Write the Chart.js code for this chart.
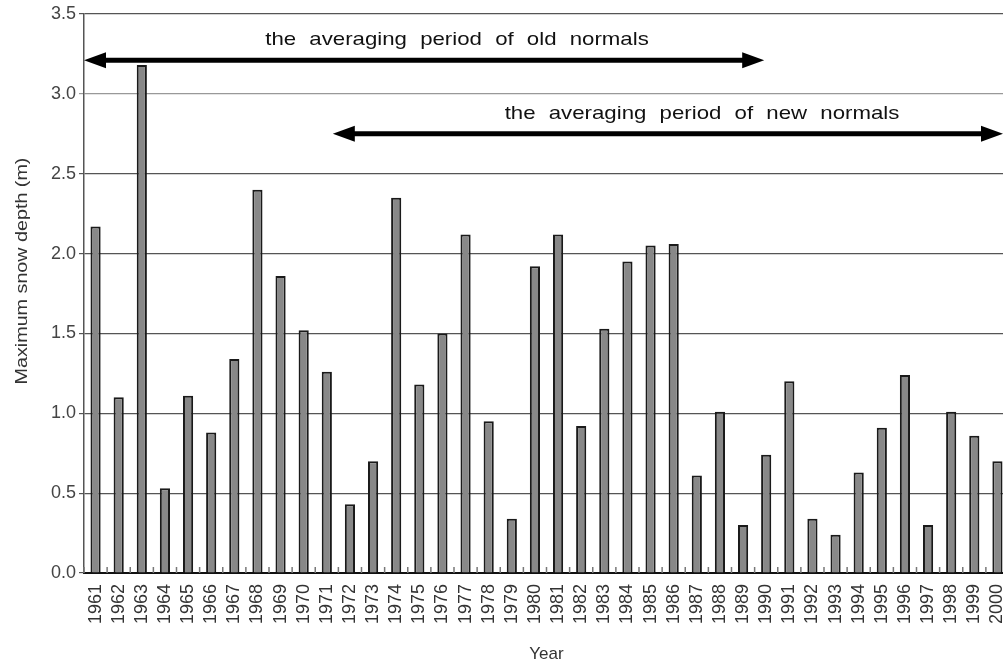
<!DOCTYPE html>
<html>
<head>
<meta charset="utf-8">
<script src="https://cdn.jsdelivr.net/npm/chart.js@4"></script>
<style>
  html, body { margin: 0; padding: 0; background: #fff; overflow: hidden; }
  #wrap { width: 1010px; height: 669px; }
</style>
</head>
<body>
<div id="wrap"><canvas id="snowChart"></canvas></div>
<script>
const years = ['1961','1962','1963','1964','1965','1966','1967','1968','1969','1970',
  '1971','1972','1973','1974','1975','1976','1977','1978','1979','1980',
  '1981','1982','1983','1984','1985','1986','1987','1988','1989','1990',
  '1991','1992','1993','1994','1995','1996','1997','1998','1999','2000'];
const snowDepth = [2.17, 1.10, 3.18, 0.53, 1.11, 0.88, 1.34, 2.40, 1.86, 1.52,
  1.26, 0.43, 0.70, 2.35, 1.18, 1.50, 2.12, 0.95, 0.34, 1.92,
  2.12, 0.92, 1.53, 1.95, 2.05, 2.06, 0.61, 1.01, 0.30, 0.74,
  1.20, 0.34, 0.24, 0.63, 0.91, 1.24, 0.30, 1.01, 0.86, 0.70];
const yTicks = [0, 0.5, 1.0, 1.5, 2.0, 2.5, 3.0, 3.5];
const yTitle = 'Maximum snow depth (m)';
const oldPeriod = { from: '1961', to: '1990', level: 3.21, label: 'the averaging period of old normals' };
const newPeriod = { from: '1971', to: '2000', level: 2.75, label: 'the averaging period of new normals' };

const FONT = '"Liberation Sans", Arial, sans-serif';

// Draw a double-headed arrow between two x pixels
function drawArrow(ctx, x1, x2, y) {
  const head = 22, half = 8;
  ctx.save();
  ctx.fillStyle = '#000';
  ctx.strokeStyle = '#000';
  ctx.lineWidth = 5;
  ctx.beginPath();
  ctx.moveTo(x1 + head - 2, y);
  ctx.lineTo(x2 - head + 2, y);
  ctx.stroke();
  ctx.beginPath();
  ctx.moveTo(x1, y); ctx.lineTo(x1 + head, y - half); ctx.lineTo(x1 + head, y + half); ctx.closePath();
  ctx.fill();
  ctx.beginPath();
  ctx.moveTo(x2, y); ctx.lineTo(x2 - head, y - half); ctx.lineTo(x2 - head, y + half); ctx.closePath();
  ctx.fill();
  ctx.restore();
}

// text is a bit wide in the original, so stretch it horizontally
function stretchedText(ctx, text, cx, cy, stretch) {
  ctx.save();
  ctx.translate(cx, cy);
  ctx.scale(stretch, 1);
  ctx.fillText(text, 0, 0);
  ctx.restore();
}

const periodArrows = {
  id: 'periodArrows',
  afterDatasetsDraw(chart) {
    const { ctx, scales: { x, y }, chartArea } = chart;
    const half = (x.getPixelForValue(1) - x.getPixelForValue(0)) / 2;

    // old normals: from plot edge to centre of 1990
    const oy = y.getPixelForValue(oldPeriod.level);
    drawArrow(ctx, chartArea.left, x.getPixelForValue(years.indexOf(oldPeriod.to)) - 2, oy);

    // new normals: from 1971 to end of 2000
    const ny = y.getPixelForValue(newPeriod.level);
    const nx1 = x.getPixelForValue(years.indexOf(newPeriod.from)) + 6;
    const nx2 = x.getPixelForValue(years.indexOf(newPeriod.to)) + half - 6;
    drawArrow(ctx, nx1, nx2, ny);

    ctx.save();
    ctx.fillStyle = '#111';
    ctx.font = '19px ' + FONT;
    ctx.textAlign = 'center';
    ctx.textBaseline = 'middle';
    if ('wordSpacing' in ctx) ctx.wordSpacing = '6px';
    stretchedText(ctx, oldPeriod.label, 457, oy - 21, 1.17);
    stretchedText(ctx, newPeriod.label, 702, ny - 20, 1.17);
    ctx.restore();

    // y axis title
    ctx.save();
    ctx.fillStyle = '#333';
    ctx.font = '17px ' + FONT;
    ctx.textAlign = 'center';
    ctx.textBaseline = 'middle';
    ctx.translate(22, 271);
    ctx.rotate(-Math.PI / 2);
    ctx.scale(1.16, 1);
    ctx.fillText(yTitle, 0, 0);
    ctx.restore();

    // small category tick marks inside the axis
    ctx.save();
    ctx.strokeStyle = '#777';
    ctx.lineWidth = 1.5;
    for (let i = 0; i <= years.length; i++) {
      const px = x.getPixelForValue(i) - half;
      ctx.beginPath();
      ctx.moveTo(px, chartArea.bottom);
      ctx.lineTo(px, chartArea.bottom - 6);
      ctx.stroke();
    }
    ctx.restore();
  }
};

new Chart(document.getElementById('snowChart'), {
  type: 'bar',
  data: {
    labels: years,
    datasets: [{
      data: snowDepth,
      backgroundColor: '#888888',
      borderColor: '#1a1a1a',
      borderWidth: 2,
      barPercentage: 0.44,
      categoryPercentage: 1.0
    }]
  },
  options: {
    responsive: true,
    maintainAspectRatio: false,
    animation: false,
    layout: { padding: { top: 14, right: 1, left: 0, bottom: 0 } },
    plugins: { legend: { display: false }, tooltip: { enabled: false } },
    scales: {
      x: {
        grid: { display: false },
        border: { display: true, color: '#111', width: 2 },
        ticks: {
          minRotation: 90, maxRotation: 90, autoSkip: false,
          color: '#333', padding: 3,
          font: { family: FONT, size: 18 }
        },
        title: {
          display: true, text: 'Year', color: '#333', padding: { top: 2, bottom: 4 },
          font: { family: FONT, size: 17 }
        },
        afterFit(scale) {
          scale.height = 96;
          scale.paddingLeft = 0;
          scale.paddingRight = 0;
        }
      },
      y: {
        min: 0, max: 3.5,
        afterBuildTicks(scale) { scale.ticks = yTicks.map(v => ({ value: v })); },
        grid: {
          color: ctx => ctx.tick && ctx.tick.value === 3 ? '#999' : '#555',
          lineWidth: 1.2, tickLength: 5
        },
        border: { display: true, color: '#555', width: 1.5 },
        ticks: {
          color: '#444', padding: 3,
          font: { family: FONT, size: 18 },
          callback: v => Number(v).toFixed(1)
        },
        afterFit(scale) { scale.width = 84; }
      }
    }
  },
  plugins: [periodArrows]
});
</script>
</body>
</html>
